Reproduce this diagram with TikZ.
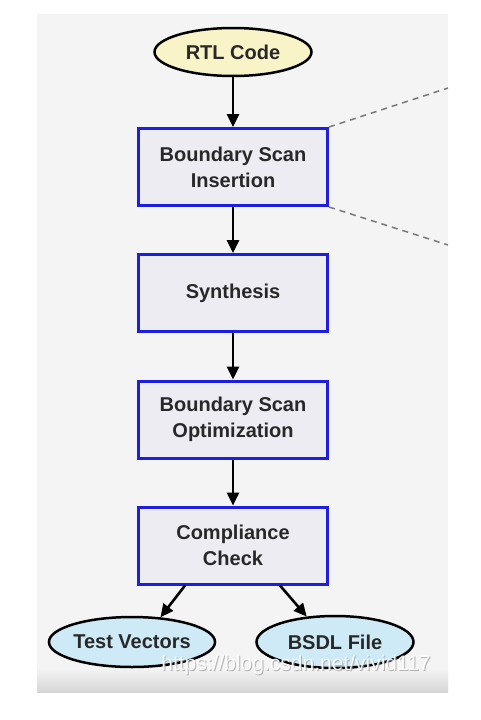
\documentclass[tikz,border=0pt]{standalone}
\usepackage{fontspec}
\setmainfont{Liberation Sans}
\usetikzlibrary{shapes.geometric,arrows.meta}
\definecolor{bgcol}{RGB}{244,244,244}
\definecolor{boxblue}{RGB}{30,30,225}
\definecolor{boxfill}{RGB}{236,236,242}
\definecolor{yellowfill}{RGB}{248,244,200}
\definecolor{cyanfill}{RGB}{205,234,246}
\definecolor{txt}{RGB}{40,40,40}
\definecolor{dashcol}{RGB}{120,120,120}
\begin{document}
\begin{tikzpicture}[x=1pt,y=-1pt,
  stepbox/.style={rectangle, draw=boxblue, line width=3pt, fill=boxfill,
    minimum width=189pt, minimum height=77pt, inner sep=0pt, align=center,
    text=txt, font=\bfseries\fontsize{20}{26}\selectfont},
  terminal/.style={ellipse, draw=black, line width=2.5pt, inner sep=0pt,
    minimum width=157pt, minimum height=48pt, align=center,
    text=txt, font=\bfseries\fontsize{20}{24}\selectfont},
  flow/.style={draw=black, line width=2.6pt, -{Triangle[length=13pt,width=12pt]}},
  guide/.style={draw=dashcol, line width=1.5pt, dash pattern=on 6pt off 5pt}
]
\useasboundingbox (0,0) rectangle (480,720);
\fill[white] (0,0) rectangle (480,720);
\fill[bgcol] (37,14) rectangle (448,692);
\shade[top color=bgcol, bottom color=black!16] (37,668) rectangle (448,692);

\node[terminal, fill=yellowfill] (rtl) at (233,52) {RTL Code};
\node[stepbox] (ins) at (233,167) {Boundary Scan\\Insertion};
\node[stepbox] (syn) at (233,293) {Synthesis};
\node[stepbox] (opt) at (233,419.5) {Boundary Scan\\Optimization};
\node[stepbox] (chk) at (233,545.5) {Compliance\\Check};
\node[terminal, fill=cyanfill, minimum height=50pt] (tv) at (132,642) {Test Vectors};
\node[terminal, fill=cyanfill, minimum height=52pt] (bsdl) at (335,642) {BSDL File};

\coordinate (g1) at (448,88);
\coordinate (g2) at (448,245);
\draw[guide] (ins.north east) -- (g1);
\draw[guide] (ins.south east) -- (g2);

\draw[flow] (rtl.south) -- (ins.north);
\draw[flow] (ins.south) -- (syn.north);
\draw[flow] (syn.south) -- (opt.north);
\draw[flow] (opt.south) -- (chk.north);
\draw[flow] ([xshift=-48pt]chk.south) -- (tv.41);
\draw[flow] ([xshift=47pt]chk.south) -- (bsdl.138);

\node[text=black!45, opacity=0.6, font=\fontsize{21}{21}\selectfont, anchor=center] (wms) at (297,666) {https://blog.csdn.net/vivid117};
\node[text=white, opacity=0.9, font=\fontsize{21}{21}\selectfont, anchor=center] (wm) at (296,665) {https://blog.csdn.net/vivid117};
\end{tikzpicture}
\end{document}
